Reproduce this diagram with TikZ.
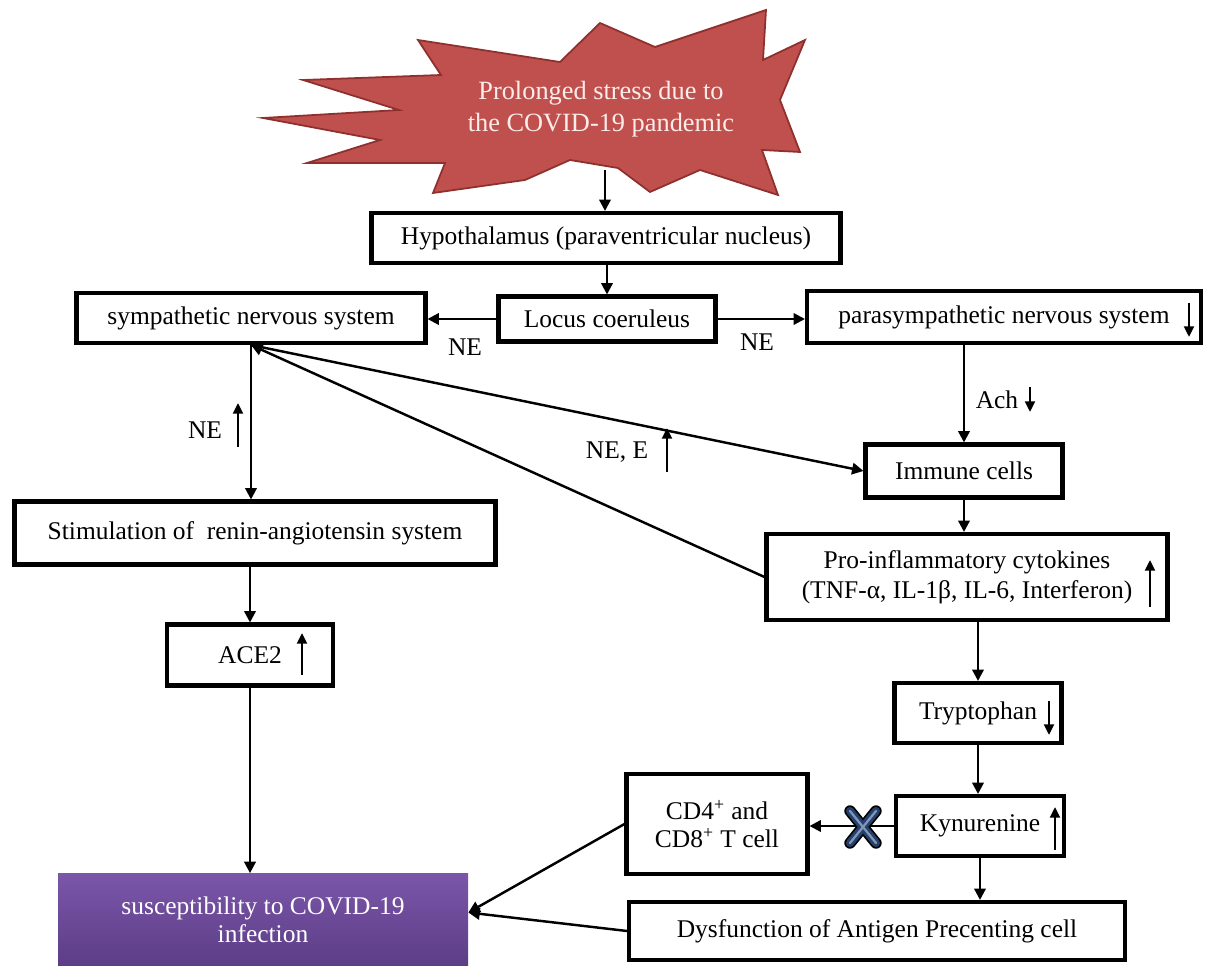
\documentclass[tikz,border=0pt]{standalone}
\usepackage{fontspec}
\setmainfont{Liberation Serif}
\usepackage{tikz}
\usetikzlibrary{calc,positioning,arrows.meta}
\definecolor{burstred}{HTML}{C0504D}
\definecolor{burstedge}{HTML}{8E302D}
\definecolor{burstink}{HTML}{FCECEA}
\definecolor{sustop}{HTML}{7B56A9}
\definecolor{susbot}{HTML}{5C3D86}
\definecolor{crossnavy}{HTML}{24406A}
\definecolor{crosslight}{HTML}{8096B8}

\begin{document}
\begin{tikzpicture}[x=0.02cm, y=-0.02cm, font=\fontsize{14.5}{17}\selectfont,
  box/.style 2 args={draw, line width=2.3pt, minimum width=#1*0.02cm, minimum height=#2*0.02cm, inner sep=0pt, align=center},
  arr/.style={line width=1.4pt, -{Triangle[length=6.5pt, width=6.5pt]}},
  tick/.style={line width=1.6pt, -{Triangle[length=6pt, width=5.5pt]}},
  lbl/.style={inner sep=1pt}]
\useasboundingbox (0,0) rectangle (1205,966);

\filldraw[fill=burstred, draw=burstedge, line width=1pt, line join=miter]
  (303,80) -- (441,75) -- (418,40) -- (560,62) -- (600,23) -- (655,47) -- (766,10) -- (763,60)
  -- (805,40) -- (780,100) -- (800,152) -- (762,150) -- (778,195) -- (700,170) -- (650,192)
  -- (618,168) -- (570,160) -- (525,180) -- (433,193) -- (445,163) -- (307,163) -- (380,140)
  -- (263,118) -- (399,110) -- cycle;
\node[text=burstink, align=center, font=\fontsize{15}{18}\selectfont] (stress) at (601,109) {Prolonged stress due to\\the COVID-19 pandemic};
\coordinate (burst) at (605,170);

\node[box={469}{50}] (hyp) at (606,238) {Hypothalamus (paraventricular nucleus)};
\node[box={217}{45}] (locus) at (607,319) {Locus coeruleus};
\node[box={349}{50}] (symp) at (251,318) {sympathetic nervous system};
\node[box={394}{52}] (para) at (1004,317) {parasympathetic nervous system};
\node[box={197}{53}] (immune) at (964,471) {Immune cells};
\node[box={401}{86}] (pro) at (967,577) {Pro-inflammatory cytokines\\(TNF-α, IL-1β, IL-6, Interferon)};
\node[box={481}{63}] (ras) at (255,533) {Stimulation of~ renin-angiotensin system};
\node[box={166}{61}] (ace) at (250,655) {ACE2};
\node[box={167}{60}] (tryp) at (978,713) {Tryptophan};
\node[box={168}{60}] (kyn) at (980,826) {Kynurenine};
\node[box={181}{100}, font=\fontsize{14.5}{16}\selectfont] (cd) at (717,824) {CD4\textsuperscript{+} and\\CD8\textsuperscript{+} T cell};
\node[box={496}{58}] (dys) at (877,931) {Dysfunction of Antigen Precenting cell};
\node[minimum width=410*0.02cm, minimum height=93*0.02cm, inner sep=0pt, top color=sustop, bottom color=susbot,
  text=white, align=center, font=\fontsize{14.5}{16}\selectfont] (sus) at (263,920) {susceptibility to COVID-19\\infection};

\path (465,347) node[lbl] (ne1) {NE};
\path (757,342) node[lbl] (ne2) {NE};
\path (205,430) node[lbl] (ne3) {NE};
\path (617,452) node[lbl] (ne4) {NE, E};
\path (997,400) node[lbl] (ach) {Ach};

\draw[arr] (burst) -- (hyp.north -| burst);
\draw[arr] (hyp.south -| locus) -- (locus.north);
\draw[arr] (locus.west) -- (locus.west -| symp.east);
\draw[arr] (locus.east) -- (locus.east -| para.west);
\draw[arr] (symp.south) -- (symp.south |- ras.north);
\draw[arr] (symp.south) -- (immune.west);
\draw[arr] (pro.west) -- (symp.south);
\draw[arr] (immune |- para.south) -- (immune.north);
\draw[arr] (immune.south) -- (immune.south |- pro.north);
\draw[arr] (tryp.north |- pro.south) -- (tryp.north);
\draw[arr] (tryp.south) -- (tryp.south |- kyn.north);
\draw[arr] (kyn.south) -- (kyn.south |- dys.north);
\draw[arr] (ace |- ras.south) -- (ace.north);
\draw[arr] (ace.south) -- (ace.south |- sus.north);
\draw[arr] (kyn.west) -- (kyn.west -| cd.east);
\draw[arr] (cd.west) -- ([yshift=0.15cm]sus.east);
\draw[arr] (dys.west) -- ([yshift=0.15cm]sus.east);

\foreach \c/\w in {black/6.5pt, crossnavy/4.6pt, crosslight/1.3pt}
  \draw[draw=\c, line width=\w, line cap=round] (850,811) -- (876,843) (850,843) -- (876,811);

\foreach \x/\a/\b in {238/447/403, 667/472/428, 1189/303/337, 1030/387/412, 1150/607/560, 302/675/633, 1049/701/735, 1055/850/807}
  \draw[tick] (\x,\a) -- (\x,\b);
\end{tikzpicture}
\end{document}
